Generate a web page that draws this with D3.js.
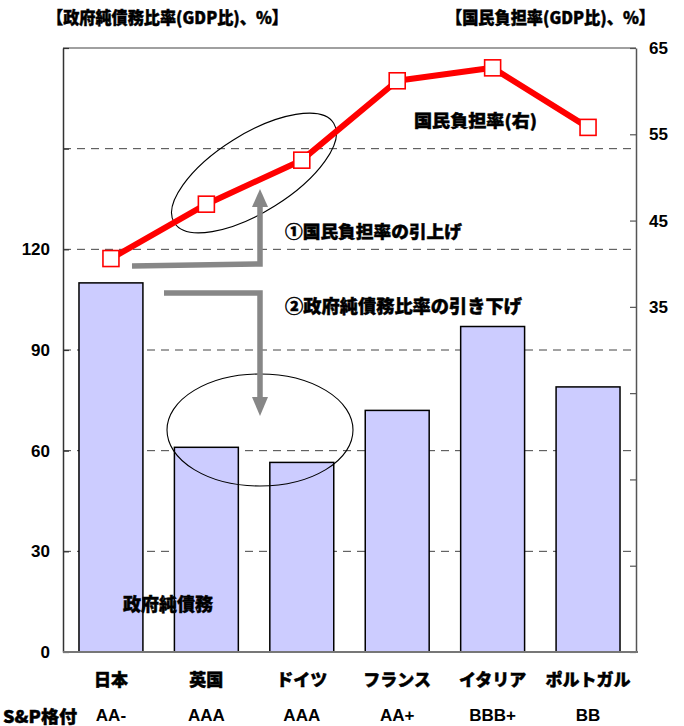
<!DOCTYPE html>
<html><head><meta charset="utf-8">
<script src="https://cdn.jsdelivr.net/npm/d3@7"></script>
<style>
html,body{margin:0;padding:0;background:#fff;}
svg{display:block;}
text{font-family:"Noto Sans CJK JP","Noto Sans",sans-serif;font-weight:900;fill:#000;}
.jp{stroke:#000;stroke-width:0.45px;}
.num{font-family:"Liberation Sans",Arial,sans-serif;font-weight:bold;}
</style></head>
<body>
<svg id="c" width="684" height="726"></svg>
<script>
const categories = ["日本","英国","ドイツ","フランス","イタリア","ポルトガル"];
const ratings = ["AA-","AAA","AAA","AA+","BBB+","BB"];
const debtRatio = [110, 61, 56.5, 72, 97, 79];          // 政府純債務比率 (left axis)
const burdenRate = [40.6, 46.9, 52.0, 61.2, 62.7, 55.8]; // 国民負担率 (right axis)
const leftTicks = [0,30,60,90,120,150,180];
const leftTickLabels = ["0","30","60","90","120","",""];
const rightTicks = [-5,5,15,25,35,45,55,65];
const rightTickLabels = ["","","","","35","45","55","65"];

const svg = d3.select("#c");
const L = 63, R = 636, T = 48, B = 652;

const x = d3.scaleBand().domain(categories).range([L,R]).paddingInner(0.33).paddingOuter(0.1675);
const yL = d3.scaleLinear().domain([0,180]).range([B,T]);
const yR = d3.scaleLinear().domain([-5,65]).range([B,T]);
const cx = c => x(c) + x.bandwidth()/2;

// gridlines
svg.append("g").selectAll("line").data(leftTicks.filter(v=>v>0 && v<180)).join("line")
  .attr("x1",L).attr("x2",R).attr("y1",d=>yL(d)).attr("y2",d=>yL(d))
  .attr("stroke","#444").attr("stroke-width",1).attr("stroke-dasharray","8,6");

// frame top
svg.append("line").attr("x1",L).attr("x2",R).attr("y1",T).attr("y2",T).attr("stroke","#808080").attr("stroke-width",1.5);

// bars
svg.append("g").selectAll("rect").data(categories).join("rect")
  .attr("x",d=>x(d)).attr("width",x.bandwidth())
  .attr("y",(d,i)=>yL(debtRatio[i])).attr("height",(d,i)=>B-yL(debtRatio[i]))
  .attr("fill","#ccccff").attr("stroke","#000").attr("stroke-width",1.5);

// axes
const axL = d3.axisLeft(yL).tickValues(leftTicks).tickSizeInner(-6).tickSizeOuter(0).tickPadding(13)
  .tickFormat((d,i)=>leftTickLabels[i]);
const gL = svg.append("g").attr("transform",`translate(${L},0)`).call(axL);
gL.select(".domain").attr("stroke","#333").attr("stroke-width",1.5);
gL.selectAll(".tick line").attr("stroke","#333").attr("stroke-width",1.2);
gL.selectAll("text").attr("class","num").style("font-size","17px").attr("fill","#000");

const axR = d3.axisRight(yR).tickValues(rightTicks).tickSizeInner(-6).tickSizeOuter(0).tickPadding(13)
  .tickFormat((d,i)=>rightTickLabels[i]);
const gR = svg.append("g").attr("transform",`translate(${R},0)`).call(axR);
gR.select(".domain").attr("stroke","#555").attr("stroke-width",1.5);
gR.selectAll(".tick line").attr("stroke","#555").attr("stroke-width",1.2);
gR.selectAll("text").attr("class","num").style("font-size","17px").attr("fill","#000");

// bottom axis line
svg.append("line").attr("x1",L).attr("x2",R+2).attr("y1",B).attr("y2",B).attr("stroke","#777").attr("stroke-width",2);

// category labels & ratings
svg.append("g").selectAll("text").data(categories).join("text")
  .attr("class","jp")
  .attr("x",d=>cx(d)).attr("y",678).attr("text-anchor","middle").attr("dominant-baseline","central")
  .style("font-size","17px").text(d=>d);
svg.append("g").selectAll("text").data(ratings).join("text")
  .attr("x",(d,i)=>cx(categories[i])).attr("y",715).attr("text-anchor","middle").attr("dominant-baseline","central")
  .attr("class","num").style("font-size","17px").text(d=>d);
svg.append("text").attr("class","jp").attr("x",3).attr("y",715).attr("dominant-baseline","central")
  .attr("textLength",74).attr("lengthAdjust","spacingAndGlyphs").style("font-size","17.5px").text("S&P格付");

// ellipses
svg.append("ellipse").attr("cx",254).attr("cy",173).attr("rx",94).attr("ry",39)
  .attr("transform","rotate(-32,254,173)").attr("fill","none").attr("stroke","#000").attr("stroke-width",1.1);
svg.append("ellipse").attr("cx",260).attr("cy",430).attr("rx",93).attr("ry",56)
  .attr("fill","none").attr("stroke","#000").attr("stroke-width",1.1);

// arrows
const gray="#878787";
svg.append("path").attr("d","M132,266 L260,264 L260,205").attr("fill","none").attr("stroke",gray).attr("stroke-width",5.5).attr("stroke-linejoin","miter");
svg.append("path").attr("d","M252,207 L268,207 L260,189 Z").attr("fill",gray);
svg.append("path").attr("d","M164,293 L260,293 L260,398").attr("fill","none").attr("stroke",gray).attr("stroke-width",5.5).attr("stroke-linejoin","miter");
svg.append("path").attr("d","M252,397 L268,397 L260,416 Z").attr("fill",gray);

// line series
const line = d3.line().x((d,i)=>cx(categories[i])).y(d=>yR(d));
svg.append("path").datum(burdenRate).attr("d",line).attr("fill","none").attr("stroke","#ff0000").attr("stroke-width",6).attr("stroke-linejoin","round");
svg.append("g").selectAll("rect").data(burdenRate).join("rect")
  .attr("x",(d,i)=>cx(categories[i])-8).attr("y",d=>yR(d)-8).attr("width",16).attr("height",16)
  .attr("fill","#fff").attr("stroke","#ff0000").attr("stroke-width",1.6);

// texts
function t(str,x0,yc,w,size){
  svg.append("text").attr("class","jp").attr("x",x0).attr("y",yc).attr("dominant-baseline","central")
    .attr("textLength",w).attr("lengthAdjust","spacingAndGlyphs").style("font-size",size+"px").text(str);
}
t("【政府純債務比率(GDP比)、%】",47,16.5,241,17);
t("【国民負担率(GDP比)、%】",446,16.5,209,17);
t("国民負担率(右)",414,119.5,123,17);
t("①国民負担率の引上げ",285,230,177,17.5);
t("②政府純債務比率の引き下げ",285,304.5,237,18);
t("政府純債務",123,603,90,18);
</script>
</body></html>
